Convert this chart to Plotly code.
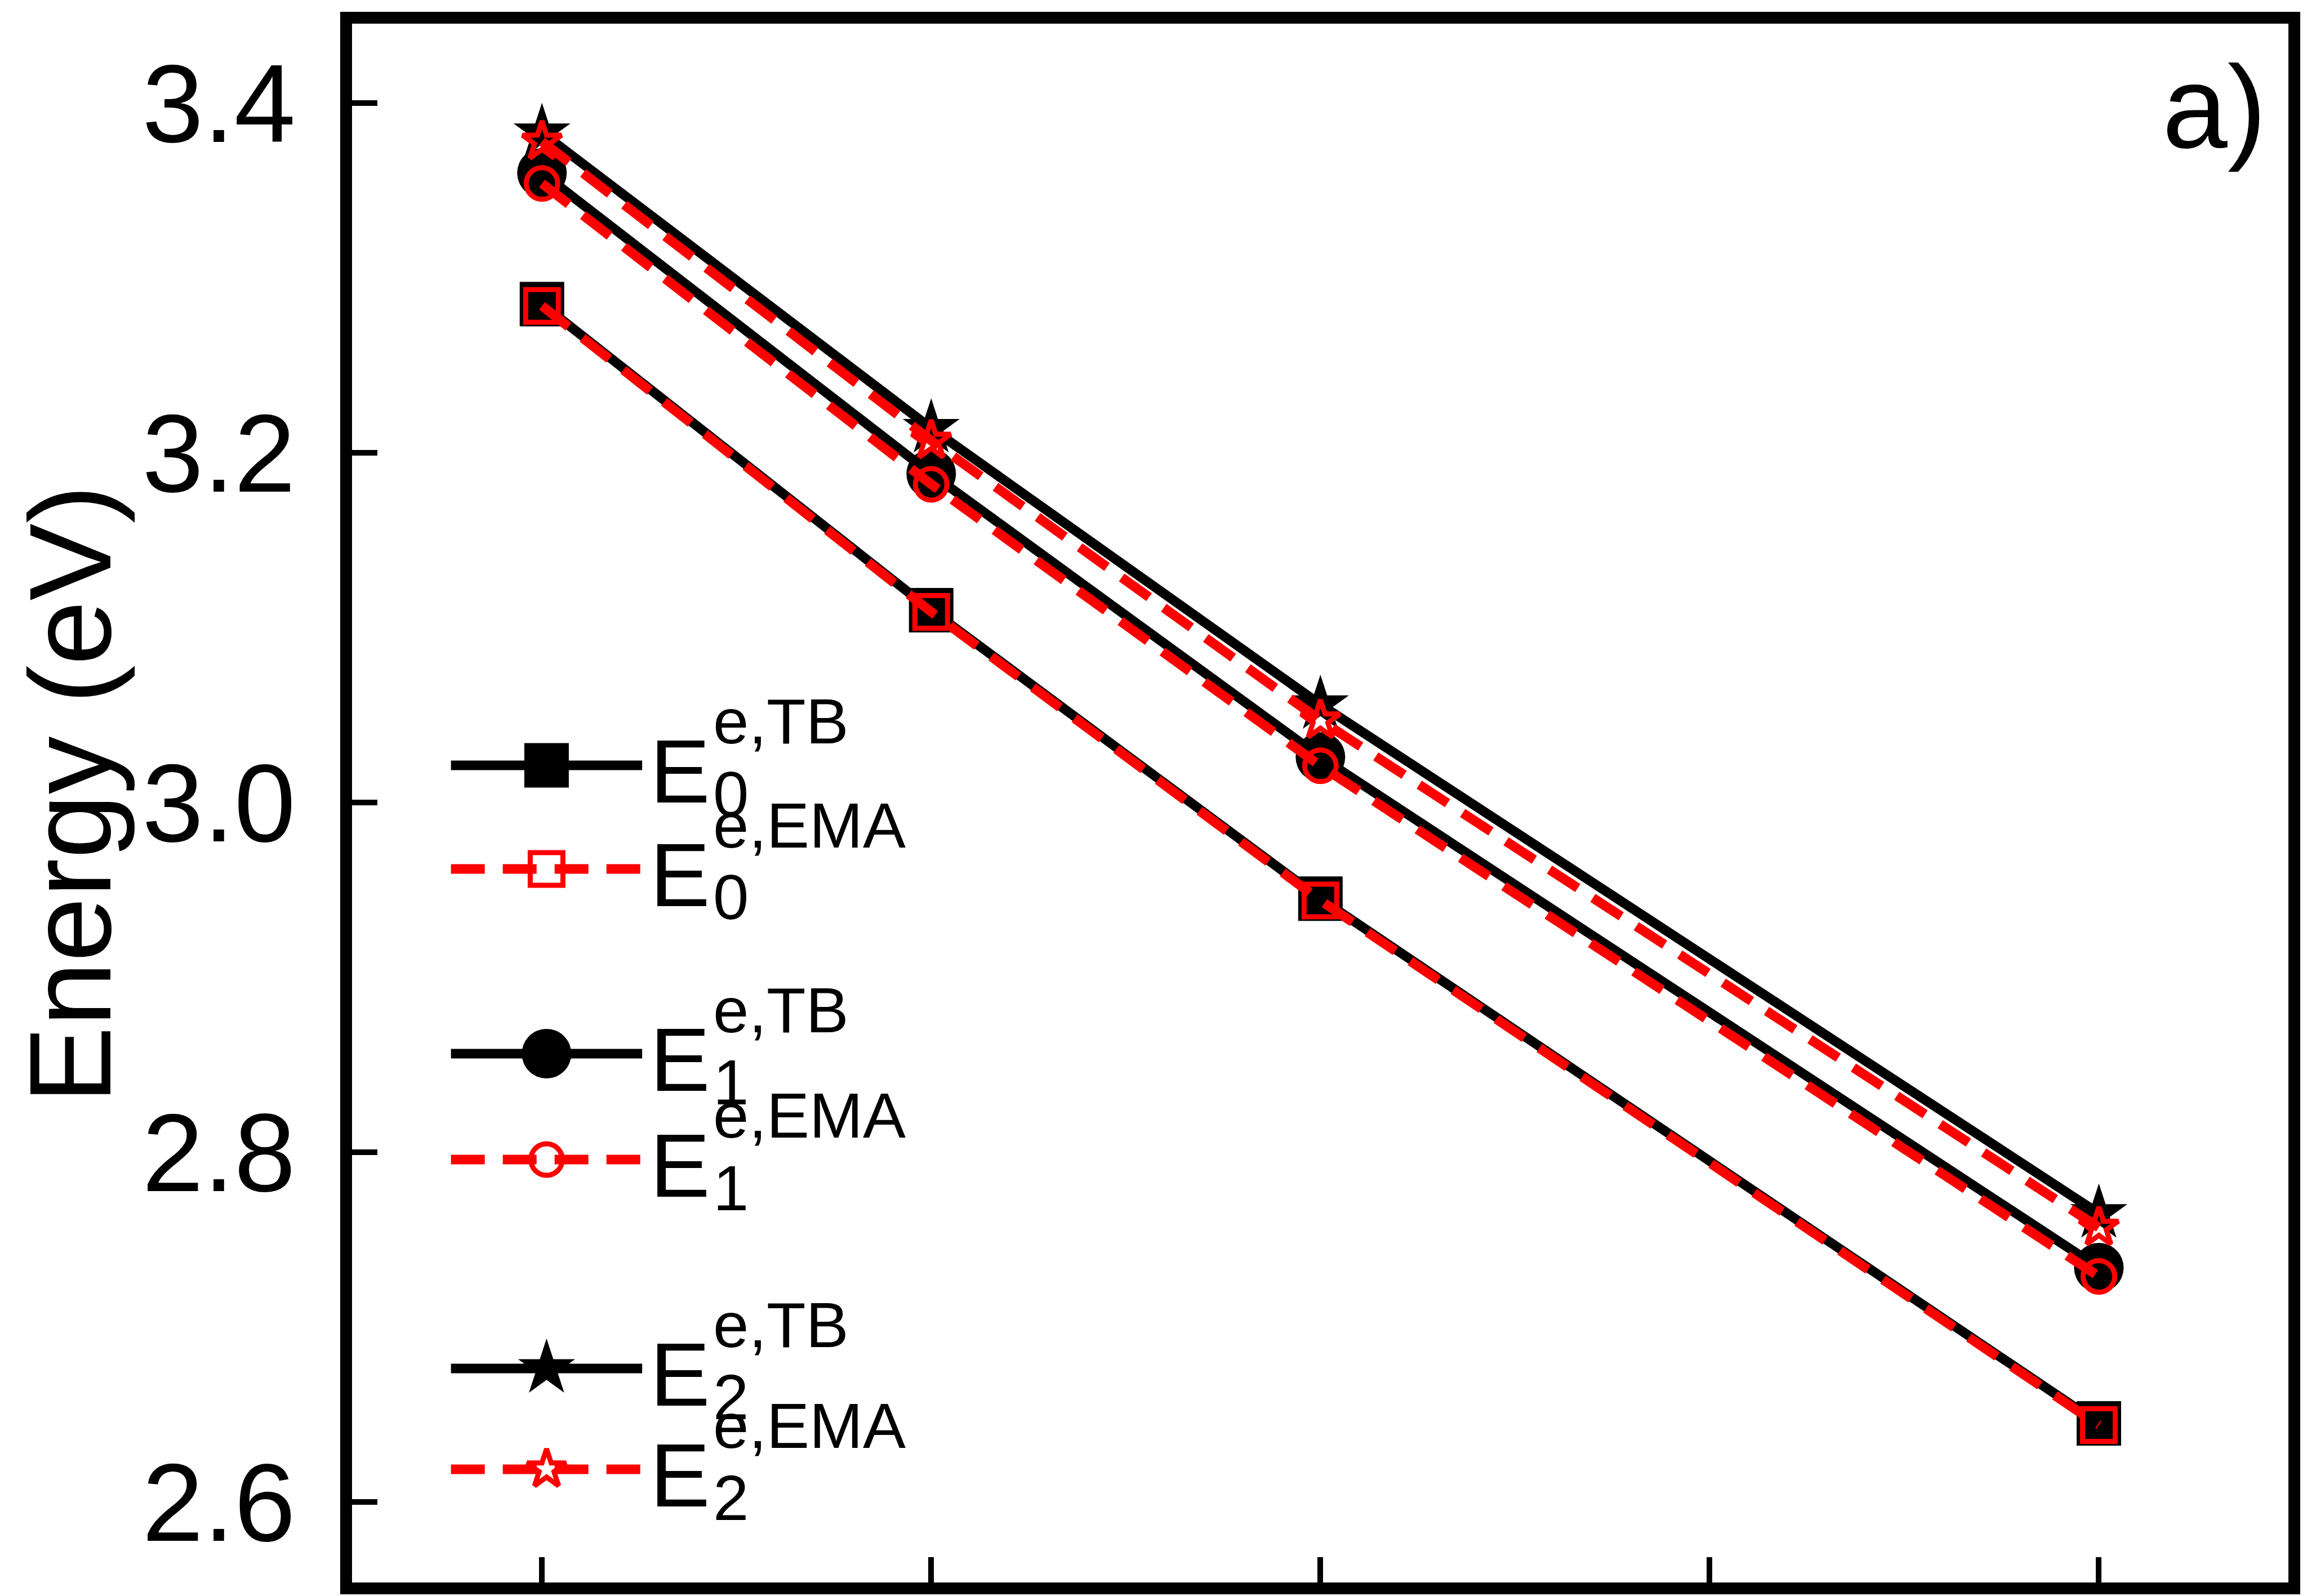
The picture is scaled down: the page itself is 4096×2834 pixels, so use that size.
import plotly.graph_objects as go

# ---------------- data ----------------
x_pos = [1, 2, 3, 5]
E0_TB = [3.285, 3.110, 2.945, 2.645]
E0_EMA = [3.284, 3.109, 2.944, 2.644]
E1_TB = [3.360, 3.188, 3.026, 2.734]
E1_EMA = [3.354, 3.182, 3.021, 2.729]
E2_TB = [3.383, 3.214, 3.056, 2.765]
E2_EMA = [3.378, 3.207, 3.047, 2.757]

y_tickvals = [2.6, 2.8, 3.0, 3.2, 3.4]
y_ticktext = ["2.6", "2.8", "3.0", "3.2", "3.4"]
x_tickvals = [1, 2, 3, 4, 5]

legend_main = ["E", "E", "E", "E", "E", "E"]
legend_sup = ["e,TB", "e,EMA", "e,TB", "e,EMA", "e,TB", "e,EMA"]
legend_sub = ["0", "0", "1", "1", "2", "2"]

y_title = "Energy (eV)"
panel_label = "a)"

# ---------------- layout geometry (output pixels) ----------------
FIG_W, FIG_H = 4096, 2834
L, R, T, B = 625, 27, 42, 24
W = FIG_W - L - R
H = FIG_H - T - B

FONT = "Liberation Sans, Arial, sans-serif"
BLACK = "#000000"
RED = "#ff0000"
LW = 17
DASH = "60px,32px"
RED_MLW = 9


def px_x(px):
    return (px - L) / W


def px_y(py):
    return 1 - (py - T) / H


fig = go.Figure()

tb_series = [(E0_TB, "square", 79), (E1_TB, "circle", 88), (E2_TB, "star", 76)]
ema_series = [(E0_EMA, "square-open", 58), (E1_EMA, "circle-open", 56), (E2_EMA, "star-open", 52)]

for ys, sym, sz in tb_series:
    fig.add_trace(go.Scatter(
        x=x_pos, y=ys, mode="lines+markers",
        line=dict(color=BLACK, width=LW),
        marker=dict(symbol=sym, size=sz, color=BLACK, line=dict(width=0)),
        showlegend=False, hoverinfo="skip"))

for ys, sym, sz in ema_series:
    fig.add_trace(go.Scatter(
        x=x_pos, y=ys, mode="lines+markers",
        line=dict(color=RED, width=LW, dash=DASH),
        marker=dict(symbol=sym, size=sz, color=RED, line=dict(width=RED_MLW, color=RED)),
        showlegend=False, hoverinfo="skip"))

# ---------------- hand-drawn legend (on pixel overlay axes) ----------------
row_y = [1359, 1543, 1871, 2059, 2430, 2609]
leg_x0, leg_x1, leg_xm = 801, 1141, 971
leg_styles = [
    (BLACK, "solid", "square", 79, 0),
    (RED, DASH, "square-open", 58, RED_MLW),
    (BLACK, "solid", "circle", 88, 0),
    (RED, DASH, "circle-open", 56, RED_MLW),
    (BLACK, "solid", "star", 76, 0),
    (RED, DASH, "star-open", 52, RED_MLW),
]
for yy, (col, dsh, sym, sz, mlw) in zip(row_y, leg_styles):
    fig.add_trace(go.Scatter(
        x=[leg_x0, leg_x1], y=[yy, yy], mode="lines",
        line=dict(color=col, width=LW, dash=dsh),
        xaxis="x2", yaxis="y2", showlegend=False, hoverinfo="skip"))
    fig.add_trace(go.Scatter(
        x=[leg_xm], y=[yy], mode="markers",
        marker=dict(symbol=sym, size=sz, color=col, line=dict(width=mlw, color=col)),
        xaxis="x2", yaxis="y2", showlegend=False, hoverinfo="skip"))

annotations = []
E_FONT = 160
S_FONT = 114
for yy, m, sp, sb in zip(row_y, legend_main, legend_sup, legend_sub):
    annotations.append(dict(text=m, x=px_x(1153), y=px_y(yy + 10), xref="paper", yref="paper",
                            xanchor="left", yanchor="middle", showarrow=False,
                            font=dict(family=FONT, size=E_FONT, color=BLACK)))
    annotations.append(dict(text=sp, x=px_x(1265), y=px_y(yy - 78), xref="paper", yref="paper",
                            xanchor="left", yanchor="middle", showarrow=False,
                            font=dict(family=FONT, size=S_FONT, color=BLACK)))
    annotations.append(dict(text=sb, x=px_x(1265), y=px_y(yy + 50), xref="paper", yref="paper",
                            xanchor="left", yanchor="middle", showarrow=False,
                            font=dict(family=FONT, size=S_FONT, color=BLACK)))

annotations.append(dict(text=y_title, x=px_x(124), y=px_y(1410), xref="paper", yref="paper",
                        xanchor="center", yanchor="middle", textangle=-90, showarrow=False,
                        font=dict(family=FONT, size=206, color=BLACK)))
annotations.append(dict(text=panel_label, x=px_x(4032), y=px_y(190), xref="paper", yref="paper",
                        xanchor="right", yanchor="middle", showarrow=False,
                        font=dict(family=FONT, size=208, color=BLACK)))

fig.update_layout(
    width=FIG_W, height=FIG_H,
    margin=dict(l=L, r=R, t=T, b=B, pad=0),
    paper_bgcolor="white", plot_bgcolor="white",
    font=dict(family=FONT, color=BLACK),
    showlegend=False,
    annotations=annotations,
    xaxis=dict(range=[0.512, 5.487], tickvals=x_tickvals, showticklabels=False,
               ticks="inside", ticklen=45, tickwidth=10, tickcolor=BLACK,
               showline=True, linecolor=BLACK, linewidth=21, mirror=True,
               showgrid=False, zeroline=False),
    yaxis=dict(range=[2.554, 3.4454], tickvals=y_tickvals, ticktext=y_ticktext,
               ticks="inside", ticklen=45, tickwidth=10, tickcolor=BLACK,
               tickfont=dict(family=FONT, size=196, color=BLACK),
               ticklabelstandoff=40,
               showline=True, linecolor=BLACK, linewidth=21, mirror=True,
               showgrid=False, zeroline=False),
    xaxis2=dict(overlaying="x", range=[L, L + W], visible=False, anchor="y2"),
    yaxis2=dict(overlaying="y", range=[T + H, T], visible=False, anchor="x2"),
)

fig.write_html("out.html", config={"displayModeBar": False},
               post_script="document.body.style.margin='0';")
